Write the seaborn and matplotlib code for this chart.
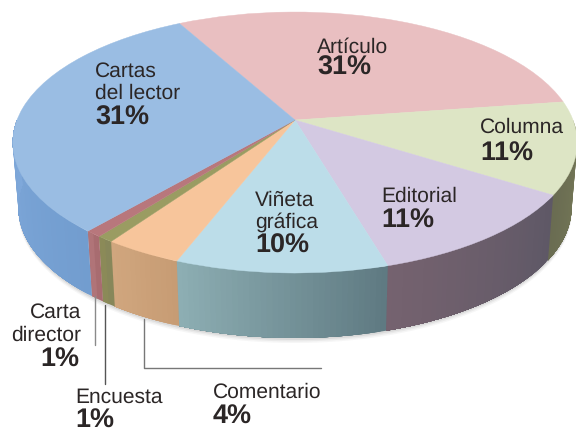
import numpy as np
import matplotlib
matplotlib.use("Agg")
import matplotlib.pyplot as plt
from matplotlib.transforms import Transform
import seaborn as sns

# Chart data, clockwise from the top left
names = ["Artículo", "Columna", "Editorial", "Viñeta\ngráfica", "Comentario", "Encuesta", "Carta\ndirector", "Cartas\ndel lector"]
# slice sizes as drawn; the printed labels are these rounded
shares = [30.6, 11.4, 11.45, 10.3, 3.8, 0.8, 0.8, 30.85]

# Colours
top_colors = ["#E9BFC1", "#DDE5C5", "#D3C9E2", "#BCDDE9", "#F7C59B", "#9A9C62", "#B8777C", "#9ABDE3"]
side_left = ["#8A6E72", "#6A6C52", "#75626F", "#8DAEB3", "#D0A67E", "#8B8A58", "#B07478", "#7FA8DA"]
side_right = ["#8A6E72", "#787C58", "#5E5866", "#5F7A82", "#C79C74", "#87875A", "#A86C70", "#729DCF"]

START_ANGLE = 118.6
WALL_DROP = 65
WALL_SHRINK = 0.98
TEXT_COLOR = "#2B2626"


class Tilt(Transform):
    # unit pie -> picture pixels, with the perspective of the tilted disc
    input_dims = 2
    output_dims = 2

    def transform_non_affine(self, xy):
        xy = np.asarray(xy, dtype=float)
        w = 1 + 0.1725 * xy[:, 1]
        return np.column_stack([295 + 278 * xy[:, 0] / w, 120 - 126.6 * xy[:, 1] / w])


def rim(theta, drop=0.0, shrink=1.0):
    pts = Tilt().transform_non_affine(np.column_stack([np.cos(theta), np.sin(theta)]))
    pts[:, 0] = 295 + (pts[:, 0] - 295) * shrink
    pts[:, 1] += drop
    return pts


def draw_walls(ax):
    # angles run clockwise, same as the pie
    edges = np.radians(START_ANGLE - 3.6 * np.concatenate([[0], np.cumsum(shares)]))
    # soft shadow under the disc
    low = np.linspace(np.radians(-175), np.radians(-5), 120)
    for blur, alpha in [(5, 0.05), (3.5, 0.07), (2, 0.1)]:
        lower = rim(low, WALL_DROP + blur, WALL_SHRINK)
        upper = rim(low[::-1], 40, WALL_SHRINK)
        poly = np.vstack([lower, upper])
        ax.fill(poly[:, 0], poly[:, 1], color="#555555", alpha=alpha, lw=0)
    for i in range(len(shares)):
        a, b = edges[i], edges[i + 1]
        # keep only the part of the wall facing the viewer
        lo, hi = min(a, b), max(a, b)
        for wrap in (0, 2 * np.pi):
            t0, t1 = max(lo + wrap, np.radians(-180)), min(hi + wrap, 0.0)
            if t0 >= t1:
                continue
            steps = np.linspace(t1, t0, max(3, int((t1 - t0) * 60)))
            c0 = np.array(matplotlib.colors.to_rgb(side_left[i]))
            c1 = np.array(matplotlib.colors.to_rgb(side_right[i]))
            # each strip runs on to the end of the slice, the next one paints over it
            for k in range(len(steps) - 1):
                f = k / max(1, len(steps) - 2)
                col = c1 * (1 - f) + c0 * f
                seg = steps[k:]
                poly = np.vstack([rim(seg), rim(seg[::-1], WALL_DROP, WALL_SHRINK)])
                ax.fill(poly[:, 0], poly[:, 1], color=col, lw=0)


def draw_labels(ax):
    # left or right edge of each label, baseline of its lines, baseline of the percent
    places = [
        (317, [53], 75, "left"),
        (480, [133], 161, "left"),
        (381, [202], 228, "left"),
        (255, [206, 228], 253, "left"),
        (213, [398], 424, "left"),
        (75, [403], 428, "left"),
        (81, [318, 341], 367, "right"),
        (95, [77, 99], 125, "left"),
    ]
    for name, share, (x, lines, pct_y, ha) in zip(names, shares, places):
        for part, y in zip(name.split("\n"), lines):
            ax.text(x, y, part, ha=ha, va="baseline", fontsize=15.1, color=TEXT_COLOR)
        ax.text(x - (2 if ha == "right" else 0), pct_y, f"{round(share)}%", ha=ha, va="baseline",
                fontsize=19.2, fontweight="bold", color=TEXT_COLOR)


def main():
    sns.set_theme(style="white")
    plt.rcParams["font.family"] = ["Liberation Sans", "DejaVu Sans"]
    plt.rcParams["text.hinting"] = "none"
    plt.rcParams["text.hinting_factor"] = 1

    fig, ax = plt.subplots(figsize=(5.76, 4.34), dpi=100)
    fig.subplots_adjust(left=0, right=1, top=1, bottom=0)

    draw_walls(ax)

    palette = sns.color_palette(top_colors)
    wedges, _ = ax.pie(shares, colors=palette, startangle=START_ANGLE, counterclock=False)
    tilt = Tilt()
    for wedge, color in zip(wedges, palette):
        wedge.set_edgecolor(color)
        wedge.set_linewidth(0.3)
        wedge.set_transform(tilt + ax.transData)

    # Leader lines
    ax.plot([95, 95], [296, 345], color="#8A8A8A", lw=1)
    ax.plot([105, 105], [305, 384], color="#555555", lw=1)
    ax.plot([144, 144, 321], [319, 368, 368], color="#777777", lw=1)

    draw_labels(ax)

    ax.set_aspect("auto")
    ax.set_xlim(0, 576)
    ax.set_ylim(434, 0)
    ax.axis("off")
    fig.savefig("out.png", dpi=100)


if __name__ == "__main__":
    main()
